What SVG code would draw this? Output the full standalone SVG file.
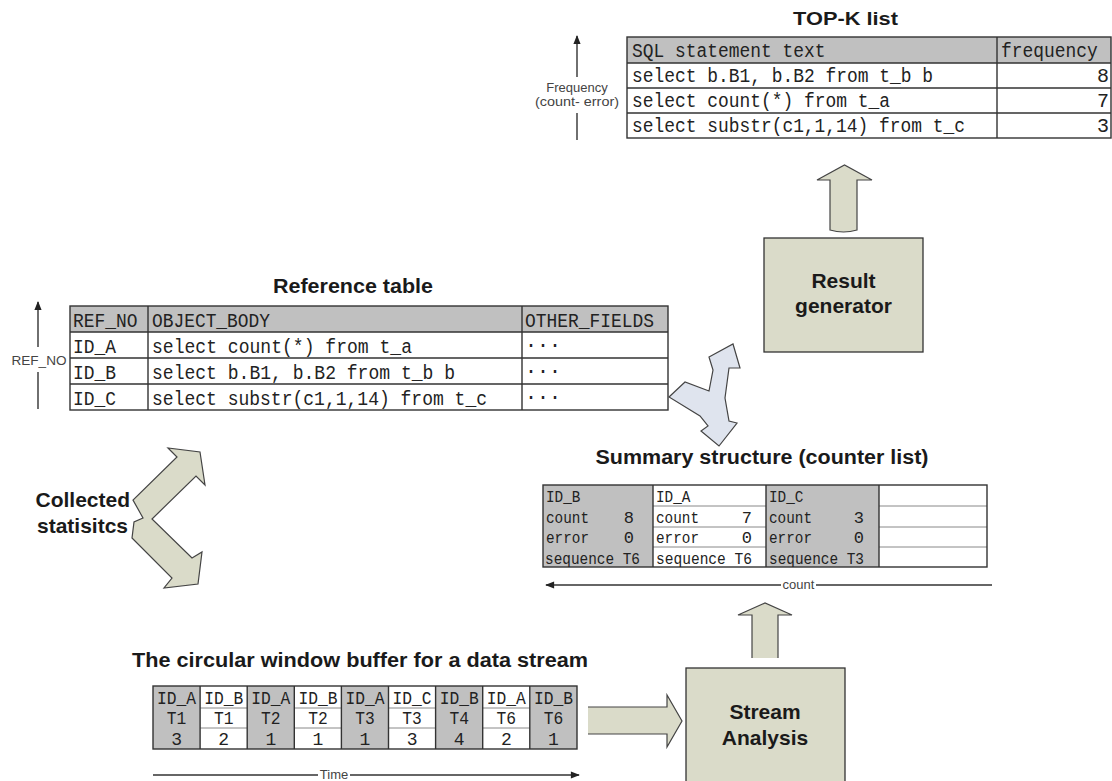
<svg xmlns="http://www.w3.org/2000/svg" width="1112" height="781" viewBox="0 0 1112 781">
<style>
.title{font-family:"Liberation Sans",Arial,sans-serif;font-weight:bold;fill:#1a1a1a}
.lbl{font-family:"Liberation Sans",Arial,sans-serif;font-size:13px;fill:#444}
.mono{font-family:"Liberation Mono","Courier New",monospace;fill:#222}
.big{font-size:20px}
.mid{font-size:18px}
.sm{font-size:17px}
.grid{stroke:#333;stroke-width:1.4;fill:none}
.thin{stroke:#888;stroke-width:1}
.hd{fill:#c0c0c0}
.box{fill:#dadbc9;stroke:#333;stroke-width:1.3}
.block{fill:#dadbc9;stroke:#444;stroke-width:1.2;stroke-linejoin:miter}
.axis{stroke:#333;stroke-width:1.4;fill:none}
</style>
<defs>
<marker id="ah" viewBox="0 0 10 10" refX="9" refY="5" markerWidth="11" markerHeight="9" orient="auto-start-reverse" markerUnits="userSpaceOnUse">
<path d="M0,1 L10,5 L0,9z" fill="#222"/>
</marker>
</defs>
<rect width="1112" height="781" fill="#fff"/>

<!-- TOP-K result list -->
<g id="topk">
<text class="title" x="845.5" y="25" font-size="18" text-anchor="middle" textLength="105" lengthAdjust="spacingAndGlyphs">TOP-K list</text>
<rect class="hd" x="627" y="37" width="484" height="26"/>
<rect class="grid" x="627" y="37" width="484" height="101"/>
<path class="grid" d="M627,63H1111M627,88H1111M627,113H1111M997,37V138"/>
<g class="mono big">
<text x="632" y="57" textLength="193.5" lengthAdjust="spacingAndGlyphs">SQL statement text</text>
<text x="1001" y="57" textLength="96.7" lengthAdjust="spacingAndGlyphs">frequency</text>
<text x="632" y="82" textLength="301" lengthAdjust="spacingAndGlyphs">select b.B1, b.B2 from t_b b</text>
<text x="632" y="107" textLength="258" lengthAdjust="spacingAndGlyphs">select count(*) from t_a</text>
<text x="632" y="132" textLength="333" lengthAdjust="spacingAndGlyphs">select substr(c1,1,14) from t_c</text>
<text x="1109" y="82" text-anchor="end">8</text>
<text x="1109" y="107" text-anchor="end">7</text>
<text x="1109" y="132" text-anchor="end">3</text>
</g>
</g>

<!-- frequency axis beside the list -->
<g id="freq-axis">
<line class="axis" x1="577" y1="77" x2="577" y2="36" marker-end="url(#ah)"/>
<line class="axis" x1="577" y1="113" x2="577" y2="140"/>
<text class="lbl" x="577" y="92" text-anchor="middle" font-size="12.5">Frequency</text>
<text class="lbl" x="577" y="106" text-anchor="middle" font-size="12.5" textLength="84" lengthAdjust="spacingAndGlyphs">(count- error)</text>
</g>

<!-- reference table -->
<g id="reftable">
<text class="title" x="353" y="293" font-size="20" text-anchor="middle" textLength="160" lengthAdjust="spacingAndGlyphs">Reference table</text>
<rect class="hd" x="70" y="306" width="598" height="26"/>
<rect class="grid" x="70" y="306" width="598" height="104"/>
<path class="grid" d="M70,332H668M70,358H668M70,384H668M148,306V410M522,306V410"/>
<g class="mono big">
<text x="73" y="327" textLength="64.5" lengthAdjust="spacingAndGlyphs">REF_NO</text>
<text x="152" y="327" textLength="118" lengthAdjust="spacingAndGlyphs">OBJECT_BODY</text>
<text x="525" y="327" textLength="129" lengthAdjust="spacingAndGlyphs">OTHER_FIELDS</text>
<text x="73" y="353" textLength="43" lengthAdjust="spacingAndGlyphs">ID_A</text>
<text x="152" y="353" textLength="260" lengthAdjust="spacingAndGlyphs">select count(*) from t_a</text>
<text x="525" y="351">···</text>
<text x="73" y="379" textLength="43" lengthAdjust="spacingAndGlyphs">ID_B</text>
<text x="152" y="379" textLength="303" lengthAdjust="spacingAndGlyphs">select b.B1, b.B2 from t_b b</text>
<text x="525" y="377">···</text>
<text x="73" y="405" textLength="43" lengthAdjust="spacingAndGlyphs">ID_C</text>
<text x="152" y="405" textLength="335" lengthAdjust="spacingAndGlyphs">select substr(c1,1,14) from t_c</text>
<text x="525" y="403">···</text>
</g>
</g>

<!-- REF_NO axis -->
<g id="ref-axis">
<line class="axis" x1="38" y1="347" x2="38" y2="302" marker-end="url(#ah)"/>
<line class="axis" x1="38" y1="372" x2="38" y2="409"/>
<text class="lbl" x="39" y="365" text-anchor="middle" textLength="55" lengthAdjust="spacingAndGlyphs">REF_NO</text>
</g>

<!-- result generator -->
<g id="result-generator">
<rect class="box" x="764" y="238" width="159" height="114"/>
<text class="title" x="843.5" y="288" font-size="21" text-anchor="middle">Result</text>
<text class="title" x="843.5" y="313" font-size="21" text-anchor="middle">generator</text>
</g>

<!-- summary structure -->
<g id="summary">
<text class="title" x="762" y="464" font-size="20" text-anchor="middle" textLength="333" lengthAdjust="spacingAndGlyphs">Summary structure (counter list)</text>
<rect class="hd" x="543" y="485" width="110" height="82"/>
<rect class="hd" x="766" y="485" width="113" height="82"/>
<path class="thin" d="M653,506H766M653,527H766M653,547H766M879,506H987M879,527H987M879,547H987"/>
<rect class="grid" x="543" y="485" width="444" height="82"/>
<path class="grid" d="M653,485V567M766,485V567M879,485V567"/>
<g class="mono sm">
<text x="546" y="502" textLength="34.4" lengthAdjust="spacingAndGlyphs">ID_B</text>
<text x="546" y="523" textLength="43" lengthAdjust="spacingAndGlyphs">count</text>
<text x="546" y="543" textLength="43" lengthAdjust="spacingAndGlyphs">error</text>
<text x="545" y="564" textLength="95" lengthAdjust="spacingAndGlyphs">sequence T6</text>
<text x="634" y="523" text-anchor="end">8</text>
<text x="634" y="543" text-anchor="end">0</text>
<text x="656" y="502" textLength="34.4" lengthAdjust="spacingAndGlyphs">ID_A</text>
<text x="656" y="523" textLength="43" lengthAdjust="spacingAndGlyphs">count</text>
<text x="656" y="543" textLength="43" lengthAdjust="spacingAndGlyphs">error</text>
<text x="656" y="564" textLength="96" lengthAdjust="spacingAndGlyphs">sequence T6</text>
<text x="752" y="523" text-anchor="end">7</text>
<text x="752" y="543" text-anchor="end">0</text>
<text x="769" y="502" textLength="34.4" lengthAdjust="spacingAndGlyphs">ID_C</text>
<text x="769" y="523" textLength="43" lengthAdjust="spacingAndGlyphs">count</text>
<text x="769" y="543" textLength="43" lengthAdjust="spacingAndGlyphs">error</text>
<text x="769" y="564" textLength="95" lengthAdjust="spacingAndGlyphs">sequence T3</text>
<text x="864" y="523" text-anchor="end">3</text>
<text x="864" y="543" text-anchor="end">0</text>
</g>
</g>

<!-- count axis under the counter list -->
<g id="count-axis">
<line class="axis" x1="781" y1="585" x2="546" y2="585" marker-end="url(#ah)"/>
<line class="axis" x1="816" y1="585" x2="992" y2="585"/>
<text class="lbl" x="798.5" y="589" text-anchor="middle" font-size="12">count</text>
</g>

<!-- collected statistics -->
<g id="collected">
<text class="title" x="130" y="507" font-size="21" text-anchor="end">Collected</text>
<text class="title" x="128" y="533" font-size="21" text-anchor="end">statisitcs</text>
</g>

<!-- circular window buffer -->
<g id="buffer">
<text class="title" x="132" y="667" font-size="20" textLength="456" lengthAdjust="spacingAndGlyphs">The circular window buffer for a data stream</text>
<g class="hd">
<rect x="153" y="686" width="47.1" height="63"/>
<rect x="247.2" y="686" width="47.1" height="63"/>
<rect x="341.4" y="686" width="47.1" height="63"/>
<rect x="435.6" y="686" width="47.1" height="63"/>
<rect x="529.8" y="686" width="47.2" height="63"/>
</g>
<path class="thin" d="M200.1,708H247.2M200.1,728H247.2M294.3,708H341.4M294.3,728H341.4M388.5,708H435.6M388.5,728H435.6M482.7,708H529.8M482.7,728H529.8"/>
<rect class="grid" x="153" y="686" width="424" height="63"/>
<path class="grid" d="M200.1,686V749M247.2,686V749M294.3,686V749M341.4,686V749M388.5,686V749M435.6,686V749M482.7,686V749M529.8,686V749"/>
<g class="mono mid" text-anchor="middle">
<text x="176.6" y="704" textLength="39" lengthAdjust="spacingAndGlyphs">ID_A</text><text x="176.6" y="724" textLength="19.5" lengthAdjust="spacingAndGlyphs">T1</text><text x="176.6" y="745">3</text>
<text x="223.7" y="704" textLength="39" lengthAdjust="spacingAndGlyphs">ID_B</text><text x="223.7" y="724" textLength="19.5" lengthAdjust="spacingAndGlyphs">T1</text><text x="223.7" y="745">2</text>
<text x="270.8" y="704" textLength="39" lengthAdjust="spacingAndGlyphs">ID_A</text><text x="270.8" y="724" textLength="19.5" lengthAdjust="spacingAndGlyphs">T2</text><text x="270.8" y="745">1</text>
<text x="317.9" y="704" textLength="39" lengthAdjust="spacingAndGlyphs">ID_B</text><text x="317.9" y="724" textLength="19.5" lengthAdjust="spacingAndGlyphs">T2</text><text x="317.9" y="745">1</text>
<text x="365" y="704" textLength="39" lengthAdjust="spacingAndGlyphs">ID_A</text><text x="365" y="724" textLength="19.5" lengthAdjust="spacingAndGlyphs">T3</text><text x="365" y="745">1</text>
<text x="412.1" y="704" textLength="39" lengthAdjust="spacingAndGlyphs">ID_C</text><text x="412.1" y="724" textLength="19.5" lengthAdjust="spacingAndGlyphs">T3</text><text x="412.1" y="745">3</text>
<text x="459.2" y="704" textLength="39" lengthAdjust="spacingAndGlyphs">ID_B</text><text x="459.2" y="724" textLength="19.5" lengthAdjust="spacingAndGlyphs">T4</text><text x="459.2" y="745">4</text>
<text x="506.3" y="704" textLength="39" lengthAdjust="spacingAndGlyphs">ID_A</text><text x="506.3" y="724" textLength="19.5" lengthAdjust="spacingAndGlyphs">T6</text><text x="506.3" y="745">2</text>
<text x="553.4" y="704" textLength="39" lengthAdjust="spacingAndGlyphs">ID_B</text><text x="553.4" y="724" textLength="19.5" lengthAdjust="spacingAndGlyphs">T6</text><text x="553.4" y="745">1</text>
</g>
</g>

<!-- time axis -->
<g id="time-axis">
<line class="axis" x1="153" y1="775" x2="318" y2="775"/>
<line class="axis" x1="350" y1="775" x2="579" y2="775" marker-end="url(#ah)"/>
<text class="lbl" x="334" y="779" text-anchor="middle" font-size="12">Time</text>
</g>

<!-- stream analysis -->
<g id="stream-analysis">
<rect class="box" x="686" y="668" width="159" height="120"/>
<text class="title" x="765" y="719" font-size="21" text-anchor="middle">Stream</text>
<text class="title" x="765" y="745" font-size="21" text-anchor="middle">Analysis</text>
</g>

<!-- block arrows between the stages -->
<g id="connectors">
<!-- buffer to stream analysis -->
<polygon points="588,707 667,707 667,695 682,721 667,747 667,734 588,734" fill="#dadbc9"/>
<path class="block" fill="none" d="M588,707H667V695L682,721L667,747V734H588"/>
<!-- stream analysis up to counter list -->
<path class="block" d="M752,658V615H738L765,603L792,615H778V658"/>
<!-- result generator up to list -->
<path class="block" d="M830,230V180H817L844.5,165L872,180H857V230Q843.5,234 830,230Z"/>
<!-- three-way exchange: reference table, generator, counter list -->
<polygon fill="#dfe4ee" stroke="#444" stroke-width="1.2" stroke-linejoin="miter" points="669,397 685,382 709,391 713,370 709,357 733,344 740,368 729,368 725,398 729,421 737,423 719,446 701,431 708,426 700,416"/>
<!-- collected statistics double bend -->
<polygon class="block" points="200,452 205,485 196,476 152,519 192,558 202,552 198,584 164,588 172,578 132,538 134,522 143,518 133,500 177,457 168,448"/>
</g>
</svg>
